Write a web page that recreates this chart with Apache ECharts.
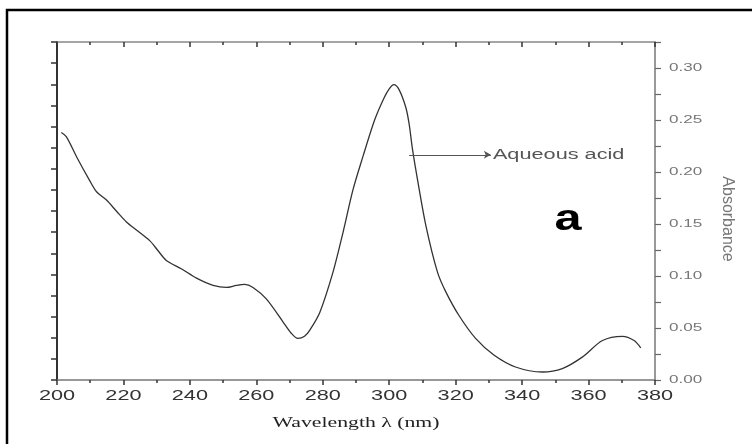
<!DOCTYPE html>
<html>
<head>
<meta charset="utf-8">
<script src="https://cdn.jsdelivr.net/npm/echarts@6/dist/echarts.min.js"></script>
<style>
html,body{margin:0;padding:0;background:#fff;}
#chart{width:752px;height:444px;}
</style>
</head>
<body>
<div id="chart"></div>
<script>
// ---- data ----
var wavelength = [201.3, 202.8, 206, 209.8, 211.9, 214.9, 218, 220.9, 224, 227.9, 230.5, 232.9, 237.4, 242, 247, 251, 254, 256.5, 259, 263, 268, 270.5, 272.5, 274.5, 276.1, 279.1, 283.1, 286.1, 289.1, 292.1, 295.6, 298.4, 300, 301.4, 303, 305, 306, 307, 308.5, 311, 314.5, 317, 321, 326, 331.5, 338, 346.1, 352.1, 358.1, 364.2, 370.2, 373.7, 375.7];
var absorbance = [0.238, 0.234, 0.214, 0.192, 0.181, 0.173, 0.162, 0.152, 0.144, 0.134, 0.124, 0.115, 0.107, 0.098, 0.091, 0.089, 0.091, 0.092, 0.089, 0.078, 0.056, 0.045, 0.040, 0.042, 0.048, 0.065, 0.104, 0.142, 0.183, 0.215, 0.250, 0.271, 0.280, 0.284, 0.279, 0.262, 0.246, 0.222, 0.193, 0.149, 0.104, 0.085, 0.062, 0.040, 0.024, 0.0125, 0.0077, 0.011, 0.022, 0.038, 0.042, 0.038, 0.031];
var xTicks = [200, 220, 240, 260, 280, 300, 320, 340, 360, 380];
var yTickLabels = ['0.00', '0.05', '0.10', '0.15', '0.20', '0.25', '0.30'];
var arrowStart = [306, 0.2165];
var arrowEnd = [330.6, 0.2165];
var seriesName = 'Aqueous acid';
var panelLabel = 'a';

// wide (horizontally stretched) text rendering as in the original figure
(function(){
  var proto = CanvasRenderingContext2D.prototype;
  var orig = proto.fillText;
  proto.fillText = function(text, x, y, maxWidth){
    var f = this.font || '';
    var s = /Liberation Serif/.test(f) ? 1.45 : (/Liberation Sans/.test(f) ? 1.55 : 1);
    if (s === 1) {
      return maxWidth === undefined ? orig.call(this, text, x, y) : orig.call(this, text, x, y, maxWidth);
    }
    this.save();
    this.translate(x, y);
    this.scale(s, 1);
    if (maxWidth === undefined) orig.call(this, text, 0, 0); else orig.call(this, text, 0, 0, maxWidth / s);
    this.restore();
  };
})();

var data = wavelength.map(function(w, i){ return [w, absorbance[i]]; });

var chart = echarts.init(document.getElementById('chart'), null, {renderer: 'canvas'});
var xBase = {
  type: 'value', min: xTicks[0], max: xTicks[xTicks.length - 1], interval: 20,
  splitLine: {show: false}
};
chart.setOption({
  animation: false,
  backgroundColor: '#fff',
  grid: {left: 57, right: 97, top: 42, bottom: 64},
  xAxis: [
    Object.assign({}, xBase, {
      position: 'bottom',
      name: 'Wavelength λ (nm)', nameLocation: 'middle', nameGap: 36,
      nameTextStyle: {fontFamily: 'Liberation Serif', fontSize: 15, color: '#222'},
      axisLine: {show: true, onZero: false, lineStyle: {color: '#777', width: 1.5}},
      axisTick: {show: true, inside: false, length: 5, lineStyle: {color: '#333', width: 1.5}},
      minorTick: {show: true, splitNumber: 2, length: 3, lineStyle: {color: '#333', width: 1.5}},
      axisLabel: {show: true, margin: 9, fontFamily: 'Liberation Sans', fontSize: 14, color: '#333',
        formatter: function(v){ return xTicks.indexOf(v) >= 0 ? String(v) : ''; }}
    }),
    Object.assign({}, xBase, {
      position: 'top',
      axisLine: {show: true, onZero: false, lineStyle: {color: '#888', width: 1.5}},
      axisTick: {show: true, inside: true, length: 5, lineStyle: {color: '#333', width: 1.5}},
      minorTick: {show: true, splitNumber: 2, length: 3, lineStyle: {color: '#333', width: 1.5}},
      axisLabel: {show: false}
    })
  ],
  yAxis: [
    {
      type: 'value', position: 'right', min: 0, max: 0.325, interval: 0.025,
      name: 'Absorbance', nameLocation: 'middle', nameGap: 64, nameRotate: -90,
      nameTextStyle: {fontFamily: 'Arial', fontSize: 16, color: '#777', padding: [0, 0, 0, 16]},
      splitLine: {show: false},
      axisLine: {show: true, onZero: false, lineStyle: {color: '#777', width: 1.5}},
      axisTick: {show: true, inside: false, length: 6, lineStyle: {color: '#666', width: 1.2}},
      axisLabel: {show: true, margin: 14, fontFamily: 'Liberation Sans', fontSize: 11, color: '#777',
        formatter: function(v){
          var s = v.toFixed(2);
          return (yTickLabels.indexOf(s) >= 0 && Math.abs(v - parseFloat(s)) < 1e-6) ? s : '';
        }}
    },
    {
      type: 'value', position: 'left', min: 0, max: 16, interval: 1,
      splitLine: {show: false},
      axisLine: {show: true, onZero: false, lineStyle: {color: '#333', width: 2}},
      axisTick: {show: true, inside: false, length: 6, lineStyle: {color: '#333', width: 1.5}},
      axisLabel: {show: false}
    }
  ],
  series: [{
    name: seriesName,
    type: 'line', xAxisIndex: 0, yAxisIndex: 0,
    data: data, smooth: 0.3, showSymbol: false,
    lineStyle: {color: '#333', width: 1.3},
    markLine: {
      silent: true, symbol: ['none', 'arrow'], symbolSize: [6, 7],
      lineStyle: {color: '#555', width: 1.2, type: 'solid'},
      label: {show: true, position: 'end', formatter: seriesName, distance: 2,
        fontFamily: 'Liberation Sans', fontSize: 14, color: '#555'},
      data: [[{coord: arrowStart}, {coord: arrowEnd}]]
    }
  }],
  graphic: [
    {type: 'polyline', silent: true, shape: {points: [[7, 450], [7, 10], [760, 10]]},
     style: {stroke: '#000', lineWidth: 2.5, fill: null}},
    {type: 'text', x: 568, y: 220, scaleX: 1.35, silent: true,
     style: {text: panelLabel, font: 'bold 36px Arial', fill: '#000', textAlign: 'center', textVerticalAlign: 'middle'}}
  ]
});
</script>
</body>
</html>
